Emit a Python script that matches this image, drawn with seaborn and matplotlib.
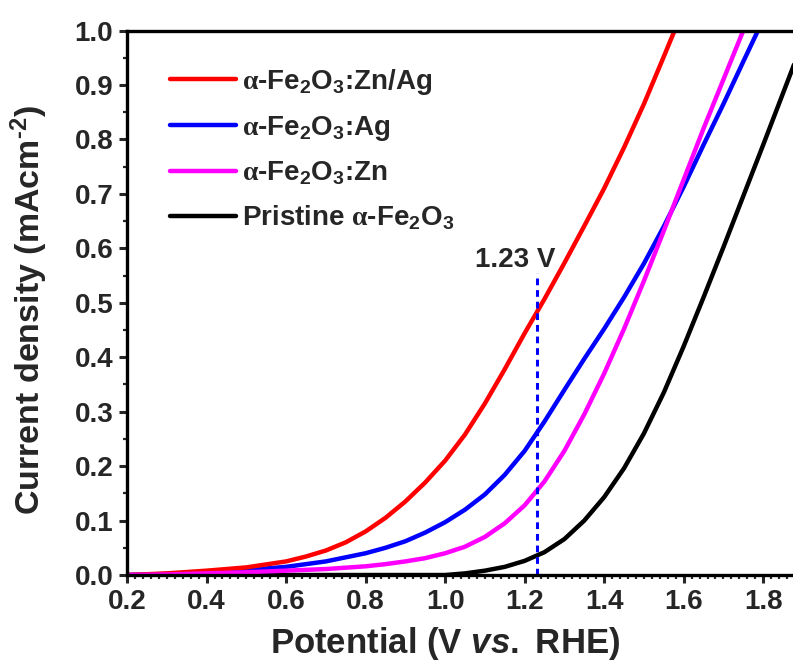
import matplotlib
matplotlib.use("Agg")
import matplotlib.pyplot as plt
from matplotlib.ticker import MultipleLocator, FormatStrFormatter
import seaborn as sns
import pandas as pd

# values (potential in V vs RHE, current in mA/cm2)
x_znag = [0.2, 0.3, 0.4, 0.5, 0.6, 0.65, 0.7, 0.75, 0.8, 0.85, 0.9, 0.95, 1.0, 1.05,
          1.1, 1.15, 1.2, 1.25, 1.3, 1.35, 1.4, 1.45, 1.5, 1.55, 1.6]
y_znag = [0.0, 0.003, 0.008, 0.014, 0.025, 0.034, 0.045, 0.06, 0.08, 0.105, 0.135, 0.17,
          0.21, 0.258, 0.315, 0.378, 0.444, 0.507, 0.573, 0.641, 0.71, 0.785, 0.865,
          0.952, 1.04]

x_ag = [0.2, 0.3, 0.4, 0.5, 0.6, 0.7, 0.8, 0.85, 0.9, 0.95, 1.0, 1.05, 1.1, 1.15, 1.2,
        1.25, 1.3, 1.35, 1.4, 1.45, 1.5, 1.55, 1.6, 1.65, 1.7, 1.75, 1.8]
y_ag = [0.0, 0.002, 0.005, 0.009, 0.015, 0.025, 0.04, 0.05, 0.062, 0.078, 0.097, 0.12,
        0.148, 0.184, 0.228, 0.282, 0.34, 0.397, 0.452, 0.51, 0.572, 0.64, 0.713, 0.79,
        0.865, 0.943, 1.02]

x_zn = [0.2, 0.3, 0.4, 0.5, 0.6, 0.7, 0.8, 0.85, 0.9, 0.95, 1.0, 1.05, 1.1, 1.15, 1.2,
        1.25, 1.3, 1.35, 1.4, 1.45, 1.5, 1.55, 1.6, 1.65, 1.7, 1.75, 1.8]
y_zn = [0.0, 0.001, 0.003, 0.005, 0.008, 0.011, 0.016, 0.02, 0.025, 0.031, 0.04, 0.052,
        0.07, 0.095, 0.128, 0.172, 0.228, 0.295, 0.37, 0.452, 0.54, 0.632, 0.726, 0.82,
        0.91, 1.0, 1.09]

x_pristine = [0.2, 0.6, 0.95, 1.0, 1.05, 1.1, 1.15, 1.2, 1.25, 1.3, 1.35, 1.4, 1.45, 1.5,
              1.55, 1.6, 1.65, 1.7, 1.75, 1.8, 1.85, 1.9]
y_pristine = [0.0, 0.0, 0.0, 0.0, 0.003, 0.008, 0.015, 0.026, 0.042, 0.066, 0.1, 0.143,
              0.196, 0.26, 0.335, 0.42, 0.51, 0.602, 0.696, 0.79, 0.885, 0.98]

labels = [r"$\mathsf{\alpha}$-Fe$_2$O$_3$:Zn/Ag",
          r"$\mathsf{\alpha}$-Fe$_2$O$_3$:Ag",
          r"$\mathsf{\alpha}$-Fe$_2$O$_3$:Zn",
          r"Pristine $\mathsf{\alpha}$-Fe$_2$O$_3$"]
colors = ["#ff0000", "#0000ff", "#ff00ff", "#000000"]

v_ref = 1.23


def main():
    sns.set_style("ticks")
    plt.rcParams["font.family"] = ["Liberation Sans", "DejaVu Sans"]
    plt.rcParams["font.weight"] = "bold"
    plt.rcParams["axes.labelweight"] = "bold"
    plt.rcParams["mathtext.fontset"] = "custom"
    plt.rcParams["mathtext.rm"] = "Liberation Sans:bold"
    plt.rcParams["mathtext.it"] = "Liberation Sans:italic:bold"
    plt.rcParams["mathtext.sf"] = "Liberation Serif"
    plt.rcParams["mathtext.default"] = "rm"

    series = [(x_znag, y_znag), (x_ag, y_ag), (x_zn, y_zn), (x_pristine, y_pristine)]

    fig = plt.figure(figsize=(7.93, 6.66), dpi=100)
    ax = fig.add_axes([0.1602, 0.1366, 0.8398, 0.8176])

    # draw black first, magenta last, like the reference
    handles = {}
    for idx in [3, 1, 0, 2]:
        xs, ys = series[idx]
        df = pd.DataFrame({"x": xs, "y": ys})
        sns.lineplot(data=df, x="x", y="y", color=colors[idx], linewidth=3.2,
                     ax=ax, label=labels[idx], sort=False)
        handles[idx] = ax.get_lines()[-1]

    ax.axvline(v_ref, ymin=0, ymax=0.555, color="#0000ff", linestyle=(0, (2.2, 1.6)),
               linewidth=2.2)
    ax.text(1.176, 0.578, "1.23 V", ha="center", va="center", fontsize=20,
            fontweight="bold")

    ax.set_xlim(0.2, 1.875)
    ax.set_ylim(0.0, 1.0)
    ax.xaxis.set_major_locator(MultipleLocator(0.2))
    ax.xaxis.set_minor_locator(MultipleLocator(0.02))
    ax.yaxis.set_major_locator(MultipleLocator(0.1))
    ax.yaxis.set_minor_locator(MultipleLocator(0.05))
    ax.xaxis.set_major_formatter(FormatStrFormatter("%.1f"))
    ax.yaxis.set_major_formatter(FormatStrFormatter("%.1f"))

    ax.tick_params(axis="both", which="major", direction="out", length=6, width=2.2,
                   labelsize=20, pad=4)
    ax.tick_params(axis="both", which="minor", direction="out", length=3, width=1.6)
    for lab in ax.get_xticklabels() + ax.get_yticklabels():
        lab.set_fontweight("bold")

    for side in ["left", "bottom", "top"]:
        ax.spines[side].set_linewidth(2.4)
        ax.spines[side].set_color("black")
    ax.spines["right"].set_visible(False)

    ax.set_xlabel(r"Potential (V $\mathit{vs.}$ RHE)", fontsize=25)
    ax.set_ylabel(r"Current density (mAcm$^{\text{-}2}$)", fontsize=24.5)
    ax.xaxis.set_label_coords(0.477, -0.092)
    ax.yaxis.set_label_coords(-0.115, 0.486)

    order = [0, 1, 2, 3]
    ax.legend([handles[i] for i in order], [labels[i] for i in order],
              loc="upper left", bbox_to_anchor=(0.064, 0.933), frameon=False,
              fontsize=20, handlelength=2.4, handletextpad=0.2, labelspacing=0.6,
              borderpad=0, borderaxespad=0)

    fig.savefig("out.png", dpi=100)


if __name__ == "__main__":
    main()
